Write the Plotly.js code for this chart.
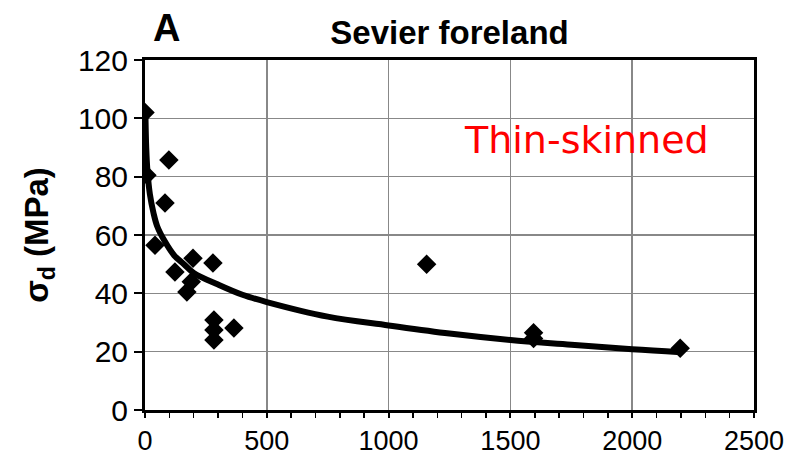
<!DOCTYPE html>
<html>
<head>
<meta charset="utf-8">
<script src="https://cdn.plot.ly/plotly-3.0.1.min.js"></script>
<style>html,body{margin:0;padding:0;background:#fff;}#chart{width:803px;height:457px;}</style>
</head>
<body>
<div id="chart"></div>
<script>
// Data points
var pointsX = [0, 8, 98, 82, 41, 123, 197, 172, 190, 279, 283, 283, 283, 365, 1156, 1595, 1595, 2197];
var pointsY = [102, 80.5, 85.7, 71, 56.5, 47.3, 52, 40.5, 44, 50.4, 30.9, 27.4, 24, 28.1, 50, 26.5, 24.5, 21.2];

// Fitted curve
var curveX = [2, 5, 10, 20, 35, 50, 80, 120, 160, 200, 300, 400, 500, 750, 1000, 1250, 1500, 1750, 2000, 2200];
var curveY = [100, 90, 82, 74, 67.5, 63, 58, 53, 50, 47, 43, 39.5, 37, 32, 29, 26.2, 24, 22.4, 20.8, 19.8];

var xTicks = [0, 500, 1000, 1500, 2000, 2500];
var yTicks = [0, 20, 40, 60, 80, 100, 120];

var traces = [
  {x: curveX, y: curveY, mode: 'lines', type: 'scatter',
   line: {color: '#000', width: 6, shape: 'spline'}, hoverinfo: 'none'},
  {x: pointsX, y: pointsY, mode: 'markers', type: 'scatter',
   marker: {symbol: 'diamond', size: 15, color: '#000'}, hoverinfo: 'none'}
];

var fam = 'Liberation Sans, Arial, sans-serif';

var layout = {
  width: 803, height: 457,
  margin: {l: 145, r: 49, t: 60, b: 47},
  paper_bgcolor: '#fff', plot_bgcolor: '#fff',
  showlegend: false,
  title: {text: '<b>Sevier foreland</b>', x: 0.5, xref: 'paper', xanchor: 'center', y: 0.93, yanchor: 'middle',
          font: {family: fam, size: 33, color: '#000'}},
  xaxis: {
    range: [0, 2500], tickvals: xTicks, ticktext: xTicks.map(String),
    showgrid: true, gridcolor: '#888', gridwidth: 1.5,
    zeroline: false, showline: true, linecolor: '#000', linewidth: 3, mirror: true,
    ticks: 'outside', ticklen: 5, tickwidth: 2, tickcolor: '#000',
    minor: {dtick: 100, ticks: 'outside', ticklen: 5, tickwidth: 1.5, tickcolor: '#000', showgrid: false},
    tickfont: {family: fam, size: 27, color: '#000'}, fixedrange: true
  },
  yaxis: {
    range: [0, 120], tickvals: yTicks, ticktext: yTicks.map(String),
    showgrid: true, gridcolor: '#888', gridwidth: 1.5,
    zeroline: false, showline: true, linecolor: '#000', linewidth: 3, mirror: true,
    ticks: 'outside', ticklen: 8, tickwidth: 2, tickcolor: '#000',
    tickfont: {family: fam, size: 30, color: '#000'}, fixedrange: true,
    title: {text: '<b>σ<sub>d</sub> (MPa)</b>', standoff: 20,
            font: {family: fam, size: 33, color: '#000'}}
  },
  annotations: [
    {text: '<b>A</b>', xref: 'paper', yref: 'paper', x: 0.035, y: 1.0, yshift: 32, xanchor: 'center', yanchor: 'middle',
     showarrow: false, font: {family: fam, size: 38, color: '#000'}},
    {text: 'Thin-skinned', xref: 'x', yref: 'y', x: 1814, y: 92.5, xanchor: 'center', yanchor: 'middle',
     showarrow: false, font: {family: 'DejaVu Sans, sans-serif', size: 38, color: '#ff0000'}}
  ]
};

Plotly.newPlot('chart', traces, layout, {staticPlot: true, displayModeBar: false});
</script>
</body>
</html>
